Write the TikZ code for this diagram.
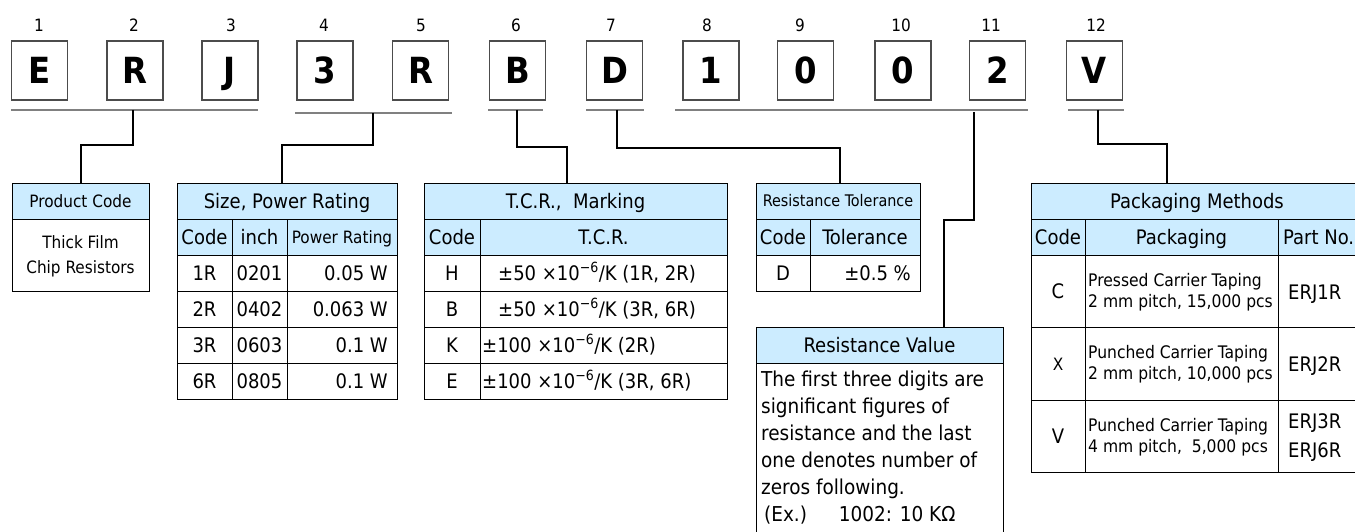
\documentclass[tikz,border=0pt]{standalone}
\usepackage{fontspec}
\setmainfont{DejaVu Sans Condensed}
\definecolor{hdrblue}{RGB}{204,236,255}

\begin{document}
\begin{tikzpicture}[x=1pt,y=-1pt,
  letter/.style={draw=black!70,line width=1.3pt,minimum width=56pt,minimum height=59pt,inner sep=0pt,text height=26pt,text depth=0pt,font=\fontsize{36}{36}\selectfont\bfseries},
  num/.style={inner sep=0pt,font=\fontsize{17}{17}\selectfont},
  uline/.style={draw=black!50,line width=1.5pt},
  conn/.style={line width=2pt},
  head/.style={draw,line width=1pt,fill=hdrblue,minimum height=36pt,inner sep=0pt,text height=14.5pt,text depth=0pt,font=\fontsize{20}{20}\selectfont},
  tabline/.style={line width=1pt},
  txt/.style={inner sep=0pt,text height=14.5pt,text depth=0pt,font=\fontsize{20}{20}\selectfont},
  smalltxt/.style={inner sep=0pt,text height=12.5pt,text depth=0pt,font=\fontsize{17}{17}\selectfont},
  para/.style={inner sep=0pt,align=left,font=\fontsize{17.3}{21}\selectfont}
]
\useasboundingbox (0,0) rectangle (1355,532);
\clip (0,0) rectangle (1355,532);

% part number letters
\node[letter] (c1) at (39.5,70.5) {E};
\node[letter] (c2) at (135,70.5) {R};
\node[letter] (c3) at (230,70.5) {J};
\node[letter] (c4) at (325,70.5) {3};
\node[letter] (c5) at (420.5,70.5) {R};
\node[letter] (c6) at (517.5,70.5) {B};
\node[letter] (c7) at (614.5,70.5) {D};
\node[letter] (c8) at (711,70.5) {1};
\node[letter] (c9) at (805.5,70.5) {0};
\node[letter] (c10) at (903,70.5) {0};
\node[letter] (c11) at (997.5,70.5) {2};
\node[letter] (c12) at (1094.5,70.5) {V};

\node[num] (n1) at (39,25) {1};
\node[num] (n2) at (134,25) {2};
\node[num] (n3) at (231,25) {3};
\node[num] (n4) at (324,25) {4};
\node[num] (n5) at (421,25) {5};
\node[num] (n6) at (516,25) {6};
\node[num] (n7) at (611,25) {7};
\node[num] (n8) at (707,25) {8};
\node[num] (n9) at (800,25) {9};
\node[num] (n10) at (901,25) {10};
\node[num] (n11) at (991,25) {11};
\node[num] (n12) at (1096,25) {12};

% group underlines
\draw[uline] (11,110) -- (258,110);
\draw[uline] (295,113) -- (452,113);
\draw[uline] (488,110) -- (543,110);
\draw[uline] (586,110) -- (644,110);
\draw[uline] (675,110) -- (1028,110);
\draw[uline] (1068,110) -- (1124,110);
\coordinate (u1) at (133,110);
\coordinate (u2) at (373,113);
\coordinate (u3) at (517,110);
\coordinate (u4) at (617,110);
\coordinate (u5) at (974,112);
\coordinate (u6) at (1098,110);

% product code
\node[head,minimum width=137pt,text height=12.5pt,font=\fontsize{17}{17}\selectfont] (prodhead) at (80.5,201) {Product Code};
\draw[tabline] (12,219) rectangle (149,291);
\node[para,align=center,font=\fontsize{17}{25}\selectfont] (prodname) at (80.5,256) {Thick Film\\Chip Resistors};

% size, power rating
\node[head,minimum width=220pt] (sizehead) at (287,201) {Size, Power Rating};
\fill[hdrblue] (177,219) rectangle (397,255);
\draw[tabline] (177,219) rectangle (397,399);
\draw[tabline] (177,255) -- (397,255) (177,291) -- (397,291) (177,327) -- (397,327) (177,363) -- (397,363);
\draw[tabline] (232,219) -- (232,399) (287,219) -- (287,399);
\node[txt] (sizecode) at (204.5,237) {Code};
\node[txt] (sizeinch) at (259.5,237) {inch};
\node[smalltxt] (sizepow) at (342,237) {Power Rating};
\node[txt] (s1a) at (204.5,273) {1R};
\node[txt] (s1b) at (259.5,273) {0201};
\node[txt,anchor=east] (s1c) at (388,273) {0.05 W};
\node[txt] (s2a) at (204.5,309) {2R};
\node[txt] (s2b) at (259.5,309) {0402};
\node[txt,anchor=east] (s2c) at (388,309) {0.063 W};
\node[txt] (s3a) at (204.5,345) {3R};
\node[txt] (s3b) at (259.5,345) {0603};
\node[txt,anchor=east] (s3c) at (388,345) {0.1 W};
\node[txt] (s4a) at (204.5,381) {6R};
\node[txt] (s4b) at (259.5,381) {0805};
\node[txt,anchor=east] (s4c) at (388,381) {0.1 W};

% T.C.R.
\node[head,minimum width=303pt] (tcrhead) at (575.5,201) {T.C.R.,\ \ Marking};
\fill[hdrblue] (424,219) rectangle (727,255);
\draw[tabline] (424,219) rectangle (727,399);
\draw[tabline] (424,255) -- (727,255) (424,291) -- (727,291) (424,327) -- (727,327) (424,363) -- (727,363);
\draw[tabline] (480,219) -- (480,399);
\node[txt] (tcrcode) at (452,237) {Code};
\node[txt] (tcrname) at (603.5,237) {T.C.R.};
\node[txt] (t1a) at (452,273) {H};
\node[txt] (t1b) at (597,273) {±50 ×10\textsuperscript{−6}/K (1R, 2R)};
\node[txt] (t2a) at (452,309) {B};
\node[txt] (t2b) at (597,309) {±50 ×10\textsuperscript{−6}/K (3R, 6R)};
\node[txt] (t3a) at (452,345) {K};
\node[txt,anchor=west] (t3b) at (482,345) {±100 ×10\textsuperscript{−6}/K (2R)};
\node[txt] (t4a) at (452,381) {E};
\node[txt,anchor=west] (t4b) at (482,381) {±100 ×10\textsuperscript{−6}/K (3R, 6R)};

% resistance tolerance
\node[head,minimum width=164pt,text height=11.5pt,font=\fontsize{16}{16}\selectfont] (tolhead) at (838,201) {Resistance Tolerance};
\fill[hdrblue] (756,219) rectangle (920,255);
\draw[tabline] (756,219) rectangle (920,291);
\draw[tabline] (756,255) -- (920,255) (810,219) -- (810,291);
\node[txt] (tolcode) at (783,237) {Code};
\node[txt] (tolname) at (865,237) {Tolerance};
\node[txt] (tol1a) at (783,273) {D};
\node[txt,anchor=east] (tol1b) at (911,273) {±0.5 \%};

% resistance value
\node[head,minimum width=247pt] (valhead) at (879.5,345) {Resistance Value};
\draw[tabline] (756,363) -- (756,545) (1003,363) -- (1003,545);
\node[para,anchor=north west,font=\fontsize{20.5}{27}\selectfont] (valtext) at (761,371) {The first three digits are\\significant figures of\\resistance and the last\\one denotes number of\\zeros following.\\\hspace*{3pt}(Ex.)\hspace{32pt}1002: 10 KΩ};

% packaging
\node[head,minimum width=332pt] (packhead) at (1197,201) {Packaging Methods};
\fill[hdrblue] (1031,219) rectangle (1363,255);
\draw[tabline] (1031,219) rectangle (1363,472);
\draw[tabline] (1031,255) -- (1363,255) (1031,327) -- (1363,327) (1031,400) -- (1363,400);
\draw[tabline] (1085,219) -- (1085,472) (1278,219) -- (1278,472);
\node[txt] (packcode) at (1058,237) {Code};
\node[txt] (packname) at (1181.5,237) {Packaging};
\node[txt,anchor=west] (packpart) at (1283,237) {Part No.};
\node[txt] (p1a) at (1058,291) {C};
\node[para,anchor=west] (p1b) at (1088,292) {Pressed Carrier Taping\\2 mm pitch, 15,000 pcs};
\node[txt,anchor=west] (p1c) at (1288,292) {ERJ1R};
\node[txt,font=\fontsize{17}{17}\selectfont] (p2a) at (1058,363) {X};
\node[para,anchor=west] (p2b) at (1088,364) {Punched Carrier Taping\\2 mm pitch, 10,000 pcs};
\node[txt,anchor=west] (p2c) at (1288,364) {ERJ2R};
\node[txt] (p3a) at (1058,436) {V};
\node[para,anchor=west] (p3b) at (1088,437) {Punched Carrier Taping\\4 mm pitch,\ \ 5,000 pcs};
\node[txt,anchor=west] (p3c) at (1288,421) {ERJ3R};
\node[txt,anchor=west] (p3d) at (1288,450) {ERJ6R};

% connectors
\draw[conn] (u1) |- (81,145) -- (81,0 |- prodhead.north);
\draw[conn] (u2) |- (282,145) -- (282,0 |- sizehead.north);
\draw[conn] (u3) |- (567,147) -- (567,0 |- tcrhead.north);
\draw[conn] (u4) |- (840,148) -- (840,0 |- tolhead.north);
\draw[conn] (u5) |- (944,220) -- (944,0 |- valhead.north);
\draw[conn] (u6) |- (1167,144) -- (1167,0 |- packhead.north);

\end{tikzpicture}
\end{document}
